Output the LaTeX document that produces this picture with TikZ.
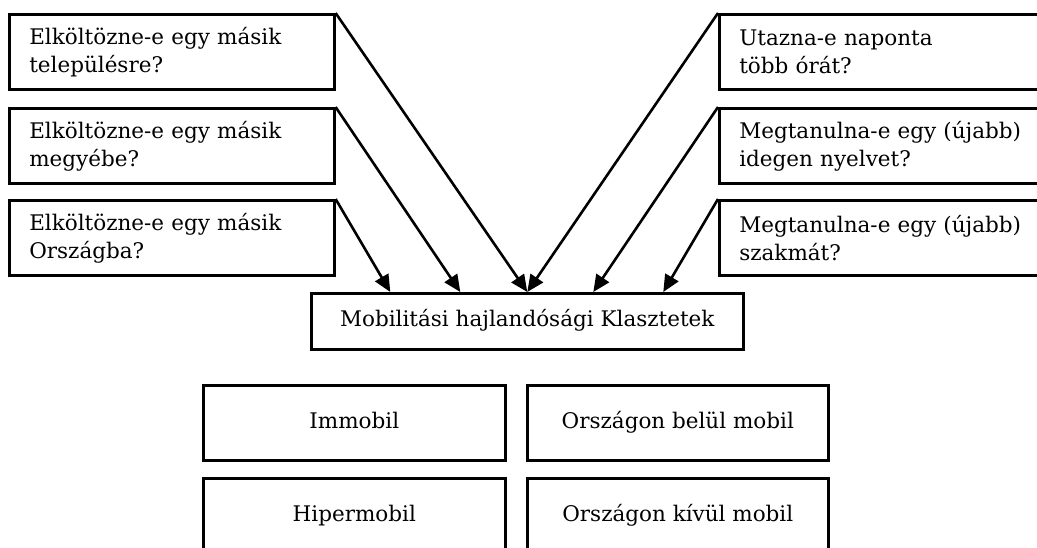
\documentclass[tikz,border=0pt]{standalone}
\usepackage{fontspec}
\setmainfont{DejaVu Serif}
\usetikzlibrary{arrows.meta,positioning,calc}
\begin{document}
\begin{tikzpicture}[x=1pt,y=-1pt,
  box/.style={draw,line width=2.6pt,rectangle,minimum height=75pt,inner sep=0pt,
    font=\fontsize{21.5}{28}\selectfont},
  qbox/.style={box,anchor=north west,minimum width=325pt,text width=285pt,align=left},
  cbox/.style={box,anchor=north west,align=center,text height=16pt,text depth=5pt},
  arr/.style={line width=2.6pt,-{Triangle[length=17pt,width=15pt]}}]
\useasboundingbox (0,0) rectangle (1037,547);
\clip (0,0) rectangle (1037,547);
% question boxes
\node[qbox] (L1) at (8,13)  {Elköltözne-e egy másik\\településre?};
\node[qbox] (L2) at (8,107) {Elköltözne-e egy másik\\megyébe?};
\node[qbox] (L3) at (8,199) {Elköltözne-e egy másik\\Országba?};
\node[qbox] (R1) at (718,13)  {Utazna-e naponta\\több órát?};
\node[qbox] (R2) at (718,107) {Megtanulna-e egy (újabb)\\idegen nyelvet?};
\node[qbox] (R3) at (718,199) {Megtanulna-e egy (újabb)\\szakmát?};
% central box
\node[cbox,minimum width=432pt,minimum height=56pt] (C) at (310,292) {Mobilitási hajlandósági Klasztetek};
% arrow targets
\coordinate (t1) at ($(C.north)+(-137,0)$);
\coordinate (t2) at ($(C.north)+(-67,0)$);
\coordinate (t3) at (C.north);
\coordinate (t4) at ($(C.north)+(66,0)$);
\coordinate (t5) at ($(C.north)+(136,0)$);
\draw[arr] (L1.north east) -- (t3);
\draw[arr] (L2.north east) -- (t2);
\draw[arr] (L3.north east) -- (t1);
\draw[arr] (R1.north west) -- (t3);
\draw[arr] (R2.north west) -- (t4);
\draw[arr] (R3.north west) -- (t5);
% cluster boxes
\node[cbox,minimum width=302pt] (K1) at (202,384) {Immobil};
\node[cbox,minimum width=301pt] (K2) at (526,384) {Országon belül mobil};
\node[cbox,minimum width=302pt] (K3) at (202,477) {Hipermobil};
\node[cbox,minimum width=301pt] (K4) at (526,477) {Országon kívül mobil};
\end{tikzpicture}
\end{document}
